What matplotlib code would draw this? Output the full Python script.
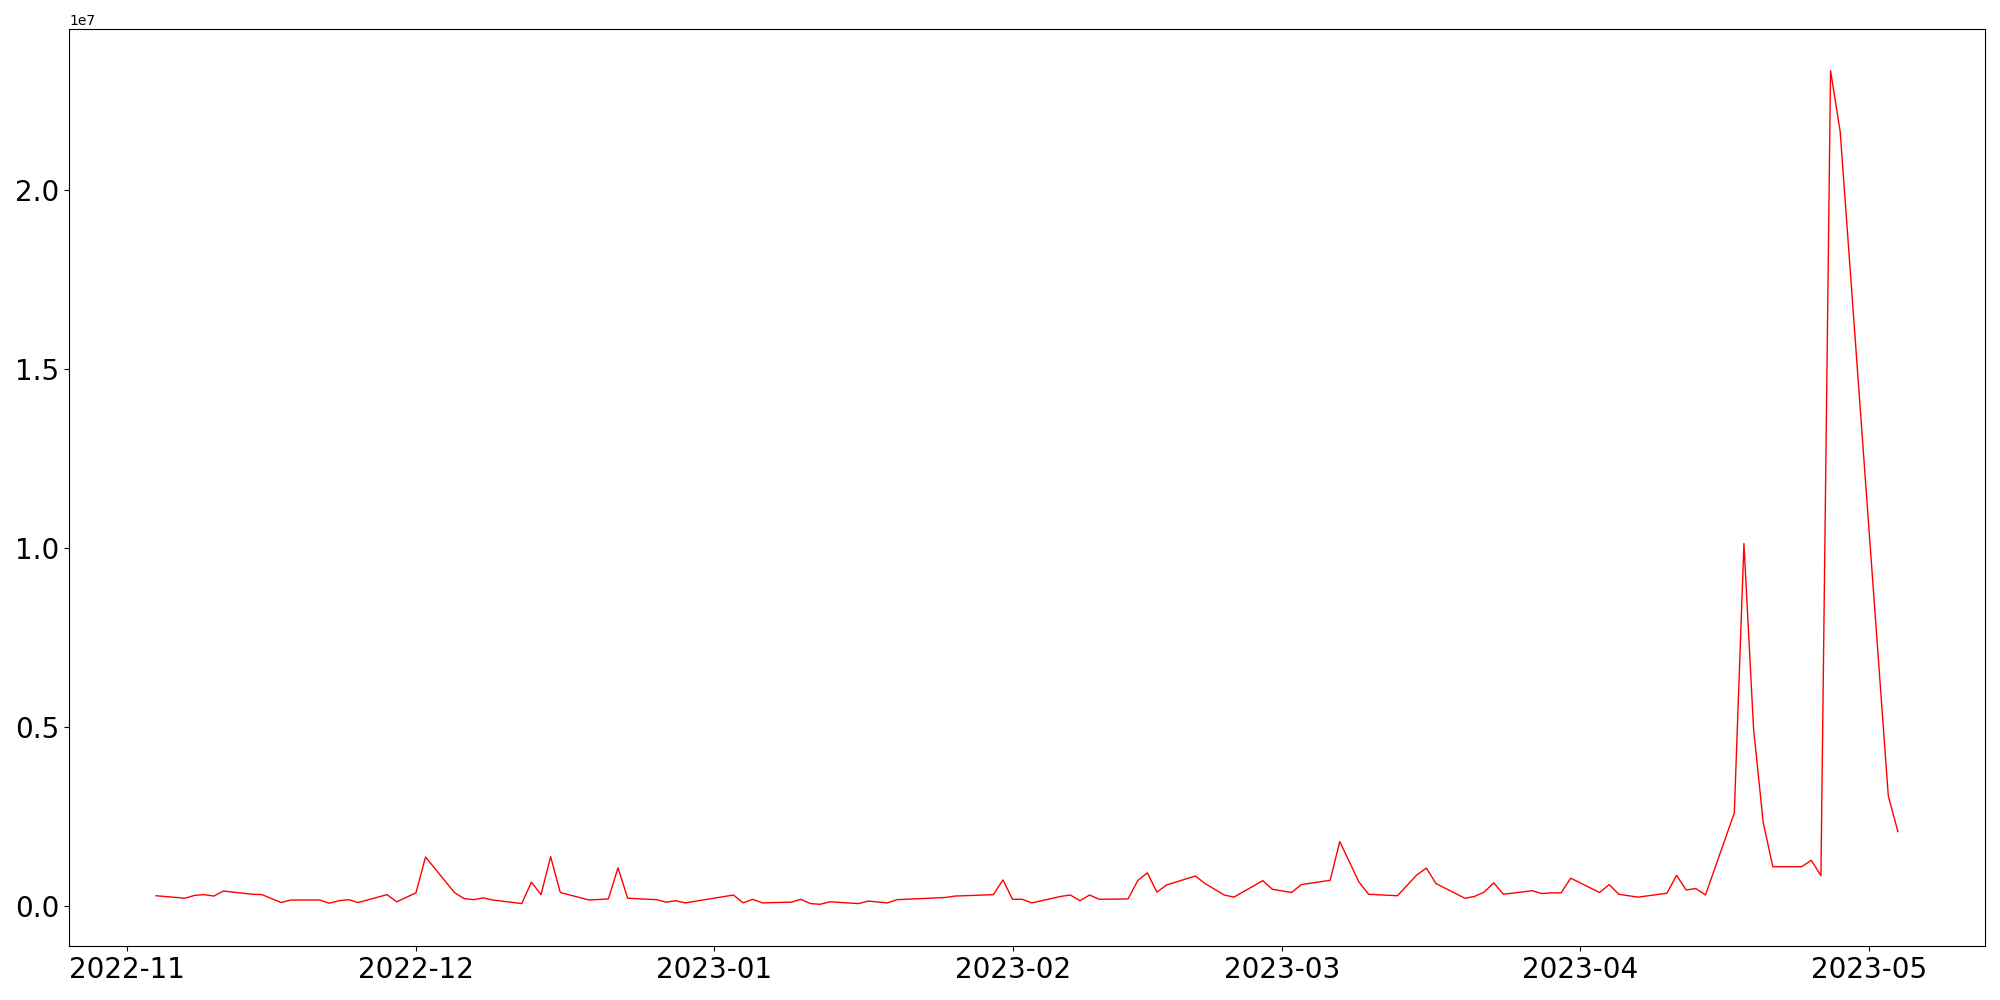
import numpy as np
import pandas as pd
import matplotlib
matplotlib.use('Agg')
import matplotlib.pyplot as plt


dates = [
    '2022-11-04', '2022-11-07', '2022-11-08', '2022-11-09', '2022-11-10',
    '2022-11-11', '2022-11-14', '2022-11-15', '2022-11-17', '2022-11-18',
    '2022-11-21', '2022-11-22', '2022-11-23', '2022-11-24', '2022-11-25',
    '2022-11-28', '2022-11-29', '2022-12-01', '2022-12-02', '2022-12-05',
    '2022-12-06', '2022-12-07', '2022-12-08', '2022-12-09', '2022-12-12',
    '2022-12-13', '2022-12-14', '2022-12-15', '2022-12-16', '2022-12-19',
    '2022-12-21', '2022-12-22', '2022-12-23', '2022-12-26', '2022-12-27',
    '2022-12-28', '2022-12-29', '2023-01-03', '2023-01-04', '2023-01-05',
    '2023-01-06', '2023-01-09', '2023-01-10', '2023-01-11', '2023-01-12',
    '2023-01-13', '2023-01-16', '2023-01-17', '2023-01-19', '2023-01-20',
    '2023-01-25', '2023-01-26', '2023-01-30', '2023-01-31', '2023-02-01',
    '2023-02-02', '2023-02-03', '2023-02-06', '2023-02-07', '2023-02-08',
    '2023-02-09', '2023-02-10', '2023-02-13', '2023-02-14', '2023-02-15',
    '2023-02-16', '2023-02-17', '2023-02-20', '2023-02-21', '2023-02-22',
    '2023-02-23', '2023-02-24', '2023-02-27', '2023-02-28', '2023-03-02',
    '2023-03-03', '2023-03-06', '2023-03-07', '2023-03-09', '2023-03-10',
    '2023-03-13', '2023-03-15', '2023-03-16', '2023-03-17', '2023-03-20',
    '2023-03-21', '2023-03-22', '2023-03-23', '2023-03-24', '2023-03-27',
    '2023-03-28', '2023-03-29', '2023-03-30', '2023-03-31', '2023-04-03',
    '2023-04-04', '2023-04-05', '2023-04-07', '2023-04-10', '2023-04-11',
    '2023-04-12', '2023-04-13', '2023-04-14', '2023-04-17', '2023-04-18',
    '2023-04-19', '2023-04-20', '2023-04-21', '2023-04-24', '2023-04-25',
    '2023-04-26', '2023-04-27', '2023-04-28', '2023-05-03', '2023-05-04',
]
# values in millions
values = [
    0.29, 0.22, 0.30, 0.32, 0.28,
    0.42, 0.33, 0.32, 0.10, 0.17,
    0.17, 0.08, 0.15, 0.18, 0.10,
    0.32, 0.12, 0.37, 1.37, 0.38,
    0.21, 0.18, 0.23, 0.17, 0.07,
    0.67, 0.32, 1.38, 0.38, 0.17,
    0.20, 1.07, 0.22, 0.18, 0.11,
    0.15, 0.09, 0.31, 0.09, 0.19,
    0.09, 0.11, 0.19, 0.07, 0.05,
    0.12, 0.07, 0.14, 0.09, 0.18,
    0.24, 0.28, 0.32, 0.73, 0.19,
    0.19, 0.09, 0.27, 0.31, 0.15,
    0.31, 0.19, 0.20, 0.71, 0.93,
    0.39, 0.59, 0.84, 0.63, 0.47,
    0.31, 0.25, 0.71, 0.47, 0.38,
    0.60, 0.72, 1.80, 0.67, 0.33,
    0.29, 0.87, 1.06, 0.63, 0.22,
    0.27, 0.39, 0.65, 0.33, 0.43,
    0.35, 0.37, 0.37, 0.78, 0.38,
    0.60, 0.33, 0.25, 0.36, 0.86,
    0.45, 0.49, 0.31, 2.60, 10.12,
    4.95, 2.34, 1.10, 1.10, 1.28,
    0.85, 23.32, 21.62, 3.08, 2.08,
]

x = pd.to_datetime(dates)
y = np.array(values) * 1e6

fig = plt.figure(figsize=(20, 10), dpi=100)
plt.subplots_adjust(0.0345, 0.054, 0.9925, 0.971)
ax = plt.subplot(111)
ax.plot(x, y, c='red', lw=1)
ax.tick_params(labelsize=20)
plt.savefig('out.png')
